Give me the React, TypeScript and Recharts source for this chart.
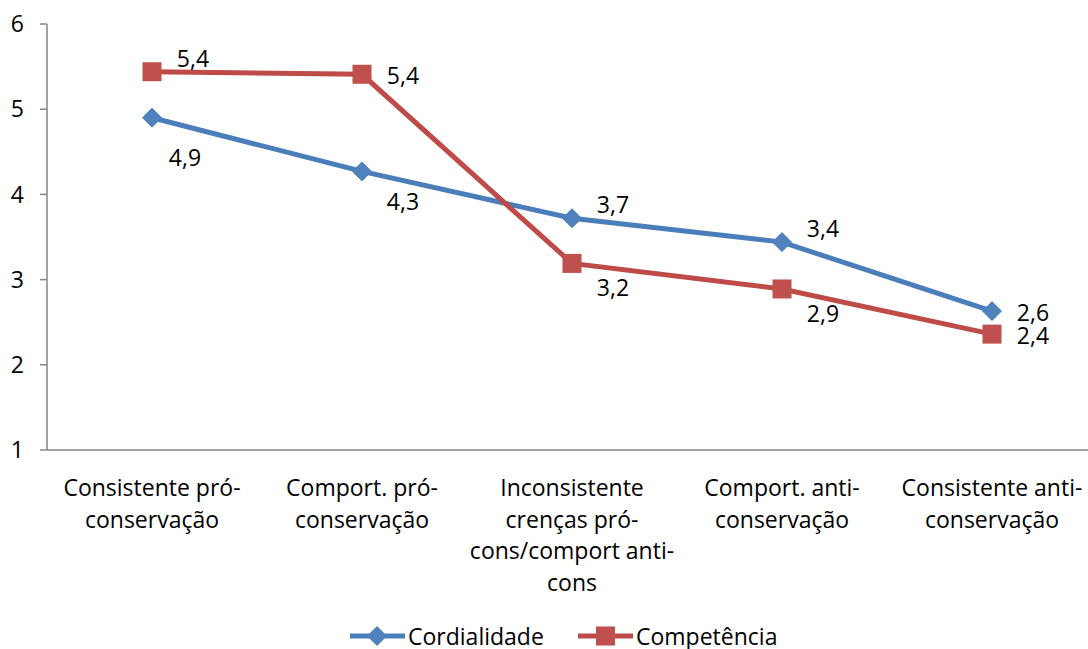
import React from 'react';
import { LineChart, Line, XAxis, YAxis, LabelList } from 'recharts';

const categories = [
  'Consistente pró-\nconservação',
  'Comport. pró-\nconservação',
  'Inconsistente\ncrenças pró-\ncons/comport anti-\ncons',
  'Comport. anti-\nconservação',
  'Consistente anti-\nconservação',
];
const cordialidade = [4.9, 4.27, 3.72, 3.44, 2.63];
const competencia = [5.44, 5.41, 3.19, 2.89, 2.36];
const yTicks = [1, 2, 3, 4, 5, 6];
const boundaryTicks = [0, 1, 2, 3, 4, 5];
const seriesNames = ['Cordialidade', 'Competência'];

const cordLabelPlacement = ['below2', 'below3', 'above', 'above', 'right'];
const compLabelPlacement = ['above', 'right', 'below', 'below', 'right'];

const FONT = '"Open Sans", Lato, sans-serif';
const FS = 23;
const BLUE = '#4A7EBB';
const BLUE_M = '#4F81BD';
const RED = '#BE4B48';
const RED_M = '#C0504D';
const AXIS = '#868686';

const data = categories.map((c, i) => ({
  name: c,
  cord: cordialidade[i],
  comp: competencia[i],
}));

const placementOffset: Record<string, [number, number]> = {
  right: [41, 1],
  above: [41, -14],
  below: [41, 24],
  below2: [33, 39],
  below3: [41, 30],
};

const fmt = (v: number) => v.toFixed(1).replace('.', ',');

const makeLabel = (placements: string[]) => (props: any) => {
  const { x, y, value, index } = props;
  const [dx, dy] = placementOffset[placements[index]] || [0, 0];
  return (
    <text
      x={x + dx}
      y={y + dy}
      textAnchor="middle"
      dominantBaseline="central"
      fontSize={FS}
      fontFamily={FONT}
      fill="#000"
    >
      {fmt(value)}
    </text>
  );
};

const Diamond = (props: any) => {
  const { cx, cy } = props;
  if (cx == null || cy == null) return null;
  const r = 9.5;
  return (
    <polygon
      points={`${cx},${cy - r} ${cx + r},${cy} ${cx},${cy + r} ${cx - r},${cy}`}
      fill={BLUE_M}
      stroke={BLUE_M}
    />
  );
};

const Square = (props: any) => {
  const { cx, cy } = props;
  if (cx == null || cy == null) return null;
  const s = 19;
  return <rect x={cx - s / 2} y={cy - s / 2} width={s} height={s} fill={RED_M} />;
};

const CatTick = (props: any) => {
  const { x, y, payload } = props;
  const lines = String(payload.value).split('\n');
  return (
    <text x={x} y={y} textAnchor="middle" fontSize={FS} fontFamily={FONT} fill="#000">
      {lines.map((l, i) => (
        <tspan key={i} x={x} dy={i === 0 ? 45 : 31.5}>
          {l}
        </tspan>
      ))}
    </text>
  );
};

const LegendSvg = () => {
  const y = 636;
  const x1 = 350;
  const x2 = 578;
  return (
    <g fontFamily={FONT} fontSize={FS}>
      <line x1={x1} y1={y} x2={x1 + 55} y2={y} stroke={BLUE} strokeWidth={5} />
      <polygon
        points={`${x1 + 27},${y - 10} ${x1 + 37},${y} ${x1 + 27},${y + 10} ${x1 + 17},${y}`}
        fill={BLUE_M}
      />
      <text x={x1 + 58} y={y} dominantBaseline="central" fill="#000">
        {seriesNames[0]}
      </text>
      <line x1={x2} y1={y} x2={x2 + 55} y2={y} stroke={RED} strokeWidth={5} />
      <rect x={x2 + 18} y={y - 9.5} width={19} height={19} fill={RED_M} />
      <text x={x2 + 58} y={y} dominantBaseline="central" fill="#000">
        {seriesNames[1]}
      </text>
    </g>
  );
};

export default function App() {
  return (
    <div
      style={{
        position: 'fixed',
        top: 0,
        left: 0,
        width: 1088,
        height: 649,
        overflow: 'hidden',
        background: '#fff',
      }}
    >
      <LineChart
        width={1098}
        height={649}
        data={data}
        margin={{ top: 24, right: 1, left: 0, bottom: 30 }}
        style={{ fontFamily: FONT }}
      >
        <XAxis
          xAxisId="b"
          type="number"
          domain={[0, 5]}
          ticks={boundaryTicks}
          allowDataOverflow
          tick={false}
          height={1}
          tickSize={7}
          axisLine={{ stroke: AXIS, strokeWidth: 1.5 }}
          tickLine={{ stroke: AXIS, strokeWidth: 1.5 }}
        />
        <XAxis
          xAxisId="c"
          dataKey="name"
          type="category"
          scale="band"
          interval={0}
          axisLine={false}
          tickLine={false}
          tickSize={0}
          tickMargin={0}
          height={168}
          tick={<CatTick />}
        />
        <YAxis
          domain={[1, 6]}
          ticks={yTicks}
          width={47}
          tickSize={7}
          tickMargin={16}
          axisLine={{ stroke: AXIS, strokeWidth: 1.5 }}
          tickLine={{ stroke: AXIS, strokeWidth: 1.5 }}
          tick={{ fontSize: FS, fill: '#000', fontFamily: FONT }}
        />
        <Line
          xAxisId="c"
          dataKey="cord"
          name={seriesNames[0]}
          stroke={BLUE}
          strokeWidth={5}
          dot={<Diamond />}
          activeDot={false}
          isAnimationActive={false}
        >
          <LabelList dataKey="cord" content={makeLabel(cordLabelPlacement)} />
        </Line>
        <Line
          xAxisId="c"
          dataKey="comp"
          name={seriesNames[1]}
          stroke={RED}
          strokeWidth={5}
          dot={<Square />}
          activeDot={false}
          isAnimationActive={false}
        >
          <LabelList dataKey="comp" content={makeLabel(compLabelPlacement)} />
        </Line>
        <LegendSvg />
      </LineChart>
    </div>
  );
}
